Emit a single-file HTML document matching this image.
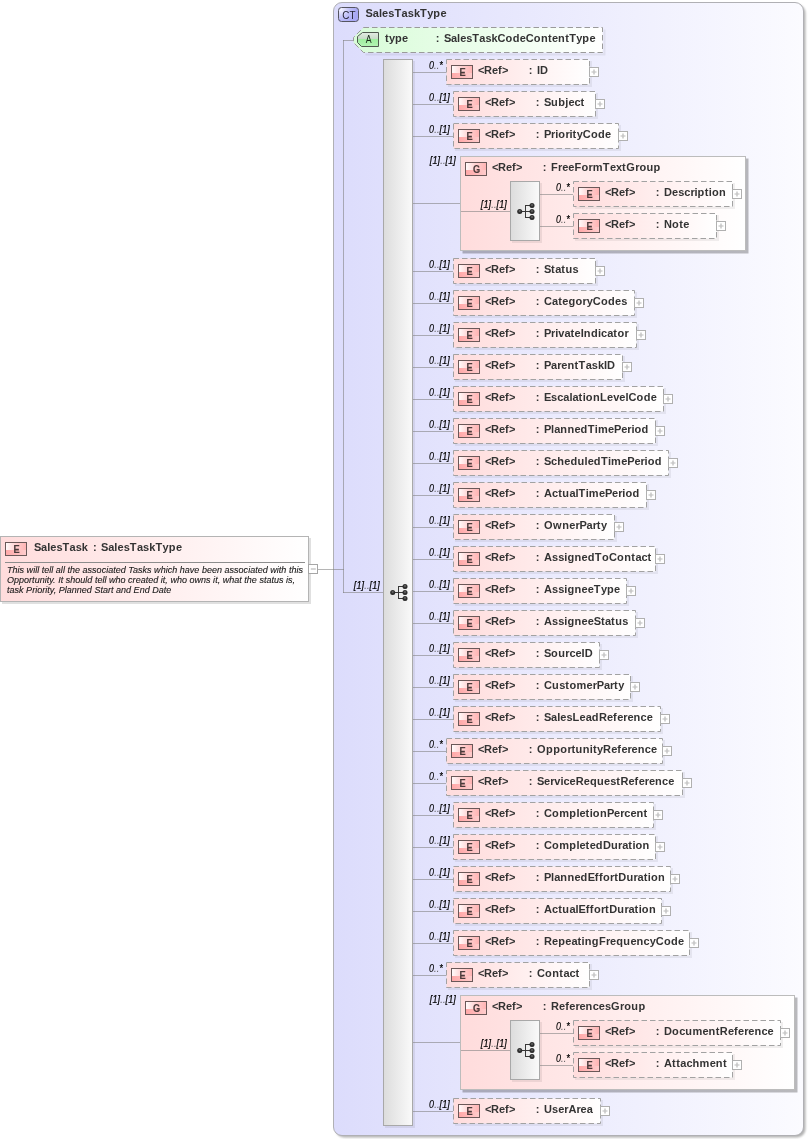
<!DOCTYPE html>
<html><head><meta charset="utf-8"><title>SalesTask</title>
<style>html,body{margin:0;padding:0;background:#fff;width:808px;height:1139px;overflow:hidden}svg{display:block;will-change:transform}text{font-family:"Liberation Sans",sans-serif}</style>
</head><body>
<svg width="808" height="1139" viewBox="0 0 808 1139" font-family="Liberation Sans, sans-serif">
<defs>
<linearGradient id="gCT" x1="0" x2="1" y1="0" y2="0"><stop offset="0" stop-color="#dcdcfc"/><stop offset="1" stop-color="#fbfbff"/></linearGradient>
<linearGradient id="gE" x1="0" x2="1" y1="0" y2="0"><stop offset="0" stop-color="#ffdcdc"/><stop offset="1" stop-color="#ffffff"/></linearGradient>
<linearGradient id="gA" x1="0" x2="1" y1="0" y2="0"><stop offset="0" stop-color="#d8fcd8"/><stop offset="1" stop-color="#ffffff"/></linearGradient>
<linearGradient id="gC" x1="0" x2="1" y1="0" y2="0"><stop offset="0" stop-color="#dcdcdc"/><stop offset="1" stop-color="#fafafa"/></linearGradient>
<linearGradient id="bEt" x1="0" x2="1" y1="0" y2="0"><stop offset="0" stop-color="#fffafa"/><stop offset="0.5" stop-color="#ffd0d0"/><stop offset="1" stop-color="#ffb4b4"/></linearGradient>
<linearGradient id="bEb" x1="0" x2="1" y1="0" y2="0"><stop offset="0" stop-color="#ffa8a8"/><stop offset="1" stop-color="#ffcccc"/></linearGradient>
<linearGradient id="bE" x1="0" x2="0" y1="0" y2="1"><stop offset="0" stop-color="#ffe8e8"/><stop offset="0.45" stop-color="#ffd4d4"/><stop offset="0.5" stop-color="#ffb4b4"/><stop offset="1" stop-color="#ffc4c4"/></linearGradient>
<linearGradient id="bA" x1="0" x2="0" y1="0" y2="1"><stop offset="0" stop-color="#e4ece4"/><stop offset="0.45" stop-color="#c8dcc8"/><stop offset="0.5" stop-color="#a0f0a0"/><stop offset="1" stop-color="#b4f4b4"/></linearGradient>
<linearGradient id="bCT" x1="0" x2="0" y1="0" y2="1"><stop offset="0" stop-color="#e8e8fa"/><stop offset="0.45" stop-color="#ccccf4"/><stop offset="0.5" stop-color="#b0b0f8"/><stop offset="1" stop-color="#c4c4fa"/></linearGradient>
<radialGradient id="dot" cx="0.5" cy="0.4" r="0.6"><stop offset="0" stop-color="#7a7a7a"/><stop offset="0.45" stop-color="#333"/><stop offset="1" stop-color="#222"/></radialGradient>
<radialGradient id="bEr" cx="0.12" cy="0.15" r="0.75" gradientTransform="translate(0.12 0.15) scale(1 1.6) translate(-0.12 -0.15)"><stop offset="0" stop-color="#fffafa"/><stop offset="0.5" stop-color="#ffc4c4"/><stop offset="1" stop-color="#ffb0b0"/></radialGradient>
<radialGradient id="bCTr" cx="0.12" cy="0.15" r="0.8" gradientTransform="translate(0.12 0.15) scale(1 1.4) translate(-0.12 -0.15)"><stop offset="0" stop-color="#f4f4ff"/><stop offset="0.5" stop-color="#c4c4f8"/><stop offset="1" stop-color="#a8a8f4"/></radialGradient>
<filter id="blur1" x="-2%" y="-2%" width="104%" height="104%"><feGaussianBlur stdDeviation="1.1"/></filter>
<filter id="blur08" x="-5%" y="-5%" width="110%" height="110%"><feGaussianBlur stdDeviation="0.6"/></filter>
</defs>
<rect width="808" height="1139" fill="#ffffff"/>
<rect x="2" y="538" width="309" height="66" fill="#000" opacity="0.12"/>
<rect x="0.5" y="536.5" width="308" height="65" fill="url(#gE)" stroke="#b4b4b4" stroke-width="1"/>
<rect x="6" y="543" width="20" height="12" fill="url(#bEb)"/>
<rect x="6" y="543" width="20" height="7" fill="url(#bEt)"/>
<rect x="5.5" y="542.5" width="21" height="13" fill="none" stroke="#6a5858" stroke-width="1"/>
<text transform="translate(16.5 553.2) scale(0.8 1)" font-size="11.5" font-weight="bold" fill="#4a3a3a" stroke="#4a3a3a" stroke-width="0.2" text-anchor="middle">E</text>
<text x="34 41.1 47.2 50.3 56.4 62.5 69.6 75.7 81.8" y="551" font-size="11" font-weight="bold" font-style="normal" fill="#333333" text-anchor="start" >SalesTask</text>
<text x="93" y="551" font-size="11" font-weight="bold" font-style="normal" fill="#333333" text-anchor="start" >:</text>
<text x="101 108.16 114.32 117.48 123.64 129.8 136.96 143.12 149.28 155.44 162.6 168.76 175.92" y="551" font-size="11" font-weight="bold" font-style="normal" fill="#333333" text-anchor="start" >SalesTaskType</text>
<rect x="5" y="562" width="300" height="1" fill="#8c8c8c"/>
<text x="7.0" y="572.6" font-size="9" font-weight="normal" font-style="italic" fill="#1a1a1a" text-anchor="start" letter-spacing="0.022" stroke="#1a1a1a" stroke-width="0.12">This will tell all the associated Tasks which have been associated with this</text>
<text x="7.0" y="582.6" font-size="9" font-weight="normal" font-style="italic" fill="#1a1a1a" text-anchor="start" letter-spacing="0.022" stroke="#1a1a1a" stroke-width="0.12">Opportunity. It should tell who created it, who owns it, what the status is,</text>
<text x="7.0" y="592.6" font-size="9" font-weight="normal" font-style="italic" fill="#1a1a1a" text-anchor="start" letter-spacing="0.022" stroke="#1a1a1a" stroke-width="0.12">task Priority, Planned Start and End Date</text>
<rect x="308.5" y="564.5" width="9" height="9" fill="#ffffff" stroke="#a6a6a6" stroke-width="1"/>
<rect x="310.8" y="568.3" width="5" height="1.4" fill="#c4c4c4"/>
<rect x="335.5" y="4.5" width="470" height="1133" rx="8.5" fill="#000" opacity="0.3" filter="url(#blur1)"/>
<rect x="333.5" y="2.5" width="470" height="1133" rx="8.5" fill="url(#gCT)" stroke="#b0b0b4" stroke-width="1"/>
<rect x="338.5" y="7.5" width="20" height="14" rx="3" fill="url(#bCTr)" stroke="#555560" stroke-width="1"/>
<text transform="translate(348.9 18.6) scale(0.86 1)" font-size="11.5" font-weight="normal" fill="#222230" text-anchor="middle">CT</text>
<text x="365.6 372.76 378.92 382.08 388.24 394.4 401.56 407.72 413.88 420.04 427.2 433.36 440.52" y="16.7" font-size="11" font-weight="bold" font-style="normal" fill="#333333" text-anchor="start" >SalesTaskType</text>
<rect x="318" y="569" width="26" height="1" fill="#808080" fill-opacity="0.58"/>
<rect x="343" y="40" width="1" height="553" fill="#808080" fill-opacity="0.58"/>
<rect x="343" y="40" width="11" height="1" fill="#808080" fill-opacity="0.58"/>
<rect x="343" y="592" width="40" height="1" fill="#808080" fill-opacity="0.58"/>
<text transform="translate(0 589.0) scale(1 1.14)" x="353.8 356.45 361.6 364.25 366.9 369.55 372.2 377.35" y="0" font-size="9" font-weight="normal" font-style="italic" fill="#000" stroke="#000" stroke-width="0.2">[1]<tspan fill="#555" stroke="none">..</tspan>[1]</text>
<path d="M365 55H605V30Z" fill="#000" opacity="0"/>
<path d="M365.5 54.5H604.5V29.5" fill="none" stroke="#000" stroke-opacity="0.06" stroke-width="2"/>
<path d="M363.5 27.5H602.5V52.5H363.5L353.5 42.5V37.5Z" fill="url(#gA)" stroke="#9a9a9a" stroke-width="1" stroke-dasharray="5.5 3"/>
<path d="M362.5 32.5H378.5V46.5H361.5L357.5 42.5V36.5Z" fill="url(#bA)" stroke="#505a50" stroke-width="1"/>
<text transform="translate(368.6 43.4) scale(0.8 1)" font-size="11" font-weight="normal" fill="#1a2a1a" text-anchor="middle">A</text>
<text x="385 389.0 395.0 402.0" y="41.8" font-size="11" font-weight="bold" font-style="normal" fill="#333333" text-anchor="start" >type</text>
<text x="435.7" y="41.8" font-size="11" font-weight="bold" font-style="normal" fill="#333333" text-anchor="start" >:</text>
<text x="444 451.06 457.12 460.18 466.24 472.3 479.36 485.42 491.48 497.54 505.6 512.66 519.72 525.78 533.84 540.9 547.96 552.02 558.08 565.14 569.2 576.26 582.32 589.38" y="41.8" font-size="11" font-weight="bold" font-style="normal" fill="#333333" text-anchor="start" >SalesTaskCodeContentType</text>
<rect x="385" y="61" width="30" height="1067" fill="#000" opacity="0.07"/>
<rect x="383.5" y="59.5" width="29" height="1066" fill="url(#gC)" stroke="#a8a8a8" stroke-width="1"/>
<rect x="392.7" y="592" width="12.300000000000011" height="1" fill="#383838"/>
<rect x="398" y="586" width="1" height="13" fill="#383838"/>
<rect x="398" y="586" width="7" height="1" fill="#383838"/>
<rect x="398" y="598" width="7" height="1" fill="#383838"/>
<circle cx="392.7" cy="592.5" r="2.5" fill="url(#dot)"/>
<circle cx="405" cy="586.5" r="2.5" fill="url(#dot)"/>
<circle cx="405" cy="592.5" r="2.5" fill="url(#dot)"/>
<circle cx="405" cy="598.5" r="2.5" fill="url(#dot)"/>
<rect x="413" y="72" width="33" height="1" fill="#808080" fill-opacity="0.58"/>
<text transform="translate(0 68.5) scale(1 1.14)" x="428.9 434.05 436.7 439.35" y="0" font-size="9" font-weight="normal" font-style="italic" fill="#000" stroke="#000" stroke-width="0.2"><tspan stroke-width="0.1">0</tspan><tspan fill="#555" stroke="none">..</tspan>*</text>
<rect x="448" y="61" width="144" height="26" fill="#000" opacity="0.06"/>
<rect x="446.5" y="59.5" width="143" height="25" fill="url(#gE)" stroke="#a2a2a2" stroke-width="1" stroke-dasharray="5.5 3"/>
<rect x="452" y="66" width="20" height="12" fill="url(#bEb)"/>
<rect x="452" y="66" width="20" height="7" fill="url(#bEt)"/>
<rect x="451.5" y="65.5" width="21" height="13" fill="none" stroke="#6a5858" stroke-width="1"/>
<text transform="translate(462.5 76.2) scale(0.8 1)" font-size="11.5" font-weight="bold" fill="#4a3a3a" stroke="#4a3a3a" stroke-width="0.2" text-anchor="middle">E</text>
<text x="478 484.0 492.0 498.0 502.0" y="74" font-size="11" font-weight="bold" font-style="normal" fill="#333333" text-anchor="start" >&lt;Ref&gt;</text>
<text x="528.7" y="74" font-size="11" font-weight="bold" font-style="normal" fill="#333333" text-anchor="start" >:</text>
<text x="537 540.1" y="74" font-size="11" font-weight="bold" font-style="normal" fill="#333333" text-anchor="start" >ID</text>
<rect x="589.5" y="67.5" width="9" height="9" fill="#ffffff" stroke="#b0b0b0" stroke-width="1"/>
<rect x="591.5" y="71.3" width="5" height="1.4" fill="#cdcdcd"/>
<rect x="593.3" y="69.5" width="1.4" height="5" fill="#c2c2c2"/>
<rect x="413" y="104" width="40" height="1" fill="#808080" fill-opacity="0.58"/>
<text transform="translate(0 100.5) scale(1 1.14)" x="429.1 434.25 436.9 439.55 442.2 447.35" y="0" font-size="9" font-weight="normal" font-style="italic" fill="#000" stroke="#000" stroke-width="0.2"><tspan stroke-width="0.1">0</tspan><tspan fill="#555" stroke="none">..</tspan>[1]</text>
<rect x="455" y="93" width="143" height="26" fill="#000" opacity="0.06"/>
<rect x="453.5" y="91.5" width="142" height="25" fill="url(#gE)" stroke="#a2a2a2" stroke-width="1" stroke-dasharray="5.5 3"/>
<rect x="459" y="98" width="20" height="12" fill="url(#bEb)"/>
<rect x="459" y="98" width="20" height="7" fill="url(#bEt)"/>
<rect x="458.5" y="97.5" width="21" height="13" fill="none" stroke="#6a5858" stroke-width="1"/>
<text transform="translate(469.5 108.2) scale(0.8 1)" font-size="11.5" font-weight="bold" fill="#4a3a3a" stroke="#4a3a3a" stroke-width="0.2" text-anchor="middle">E</text>
<text x="485 491.0 499.0 505.0 509.0" y="106" font-size="11" font-weight="bold" font-style="normal" fill="#333333" text-anchor="start" >&lt;Ref&gt;</text>
<text x="535.7" y="106" font-size="11" font-weight="bold" font-style="normal" fill="#333333" text-anchor="start" >:</text>
<text x="544 551.1 558.2 565.3 568.4 574.5 580.6" y="106" font-size="11" font-weight="bold" font-style="normal" fill="#333333" text-anchor="start" >Subject</text>
<rect x="595.5" y="99.5" width="9" height="9" fill="#ffffff" stroke="#b0b0b0" stroke-width="1"/>
<rect x="597.5" y="103.3" width="5" height="1.4" fill="#cdcdcd"/>
<rect x="599.3" y="101.5" width="1.4" height="5" fill="#c2c2c2"/>
<rect x="413" y="136" width="40" height="1" fill="#808080" fill-opacity="0.58"/>
<text transform="translate(0 132.5) scale(1 1.14)" x="429.1 434.25 436.9 439.55 442.2 447.35" y="0" font-size="9" font-weight="normal" font-style="italic" fill="#000" stroke="#000" stroke-width="0.2"><tspan stroke-width="0.1">0</tspan><tspan fill="#555" stroke="none">..</tspan>[1]</text>
<rect x="455" y="125" width="166" height="26" fill="#000" opacity="0.06"/>
<rect x="453.5" y="123.5" width="165" height="25" fill="url(#gE)" stroke="#a2a2a2" stroke-width="1" stroke-dasharray="5.5 3"/>
<rect x="459" y="130" width="20" height="12" fill="url(#bEb)"/>
<rect x="459" y="130" width="20" height="7" fill="url(#bEt)"/>
<rect x="458.5" y="129.5" width="21" height="13" fill="none" stroke="#6a5858" stroke-width="1"/>
<text transform="translate(469.5 140.2) scale(0.8 1)" font-size="11.5" font-weight="bold" fill="#4a3a3a" stroke="#4a3a3a" stroke-width="0.2" text-anchor="middle">E</text>
<text x="485 491.0 499.0 505.0 509.0" y="138" font-size="11" font-weight="bold" font-style="normal" fill="#333333" text-anchor="start" >&lt;Ref&gt;</text>
<text x="535.7" y="138" font-size="11" font-weight="bold" font-style="normal" fill="#333333" text-anchor="start" >:</text>
<text x="544 551.1 555.2 558.3 565.4 569.5 572.6 576.7 582.8 590.9 598.0 605.1" y="138" font-size="11" font-weight="bold" font-style="normal" fill="#333333" text-anchor="start" >PriorityCode</text>
<rect x="618.5" y="131.5" width="9" height="9" fill="#ffffff" stroke="#b0b0b0" stroke-width="1"/>
<rect x="620.5" y="135.3" width="5" height="1.4" fill="#cdcdcd"/>
<rect x="622.3" y="133.5" width="1.4" height="5" fill="#c2c2c2"/>
<rect x="413" y="203" width="47" height="1" fill="#808080" fill-opacity="0.58"/>
<text transform="translate(0 163.5) scale(1 1.14)" x="429.8 432.45 437.6 440.25 442.9 445.55 448.2 453.35" y="0" font-size="9" font-weight="normal" font-style="italic" fill="#000" stroke="#000" stroke-width="0.2">[1]<tspan fill="#555" stroke="none">..</tspan>[1]</text>
<rect x="462.5" y="158.5" width="286" height="95" fill="#000" opacity="0.26" filter="url(#blur08)"/>
<rect x="460.5" y="156.5" width="285" height="94" fill="url(#gE)" stroke="#bcbcbc" stroke-width="1"/>
<rect x="466" y="163" width="20" height="12" fill="url(#bEb)"/>
<rect x="466" y="163" width="20" height="7" fill="url(#bEt)"/>
<rect x="465.5" y="162.5" width="21" height="13" fill="none" stroke="#6a5858" stroke-width="1"/>
<text transform="translate(476.5 173.2) scale(0.8 1)" font-size="11.5" font-weight="bold" fill="#4a3a3a" stroke="#4a3a3a" stroke-width="0.2" text-anchor="middle">G</text>
<text x="492 498.0 506.0 512.0 516.0" y="171" font-size="11" font-weight="bold" font-style="normal" fill="#333333" text-anchor="start" >&lt;Ref&gt;</text>
<text x="542.7" y="171" font-size="11" font-weight="bold" font-style="normal" fill="#333333" text-anchor="start" >:</text>
<text x="551 558.1 562.2 568.3 574.4 581.5 588.6 592.7 602.8 609.9 616.0 622.1 626.2 635.3 639.4 646.5 653.6" y="171" font-size="11" font-weight="bold" font-style="normal" fill="#333333" text-anchor="start" >FreeFormTextGroup</text>
<rect x="461" y="211" width="49" height="1" fill="#808080" fill-opacity="0.58"/>
<text transform="translate(0 207.5) scale(1 1.14)" x="480.8 483.45 488.6 491.25 493.9 496.55 499.2 504.35" y="0" font-size="9" font-weight="normal" font-style="italic" fill="#000" stroke="#000" stroke-width="0.2">[1]<tspan fill="#555" stroke="none">..</tspan>[1]</text>
<rect x="512" y="183" width="30" height="60" fill="#000" opacity="0.07"/>
<rect x="510.5" y="181.5" width="29" height="59" fill="url(#gC)" stroke="#a8a8a8" stroke-width="1"/>
<rect x="519.7" y="211" width="12.299999999999955" height="1" fill="#383838"/>
<rect x="525" y="205" width="1" height="13" fill="#383838"/>
<rect x="525" y="205" width="7" height="1" fill="#383838"/>
<rect x="525" y="217" width="7" height="1" fill="#383838"/>
<circle cx="519.7" cy="211.5" r="2.5" fill="url(#dot)"/>
<circle cx="532" cy="205.5" r="2.5" fill="url(#dot)"/>
<circle cx="532" cy="211.5" r="2.5" fill="url(#dot)"/>
<circle cx="532" cy="217.5" r="2.5" fill="url(#dot)"/>
<rect x="540" y="194" width="33" height="1" fill="#808080" fill-opacity="0.58"/>
<text transform="translate(0 190.5) scale(1 1.14)" x="555.9 561.05 563.7 566.35" y="0" font-size="9" font-weight="normal" font-style="italic" fill="#000" stroke="#000" stroke-width="0.2"><tspan stroke-width="0.1">0</tspan><tspan fill="#555" stroke="none">..</tspan>*</text>
<rect x="575" y="183" width="160" height="26" fill="#000" opacity="0.06"/>
<rect x="573.5" y="181.5" width="159" height="25" fill="url(#gE)" stroke="#a2a2a2" stroke-width="1" stroke-dasharray="5.5 3"/>
<rect x="579" y="188" width="20" height="12" fill="url(#bEb)"/>
<rect x="579" y="188" width="20" height="7" fill="url(#bEt)"/>
<rect x="578.5" y="187.5" width="21" height="13" fill="none" stroke="#6a5858" stroke-width="1"/>
<text transform="translate(589.5 198.2) scale(0.8 1)" font-size="11.5" font-weight="bold" fill="#4a3a3a" stroke="#4a3a3a" stroke-width="0.2" text-anchor="middle">E</text>
<text x="605 611.0 619.0 625.0 629.0" y="196" font-size="11" font-weight="bold" font-style="normal" fill="#333333" text-anchor="start" >&lt;Ref&gt;</text>
<text x="655.7" y="196" font-size="11" font-weight="bold" font-style="normal" fill="#333333" text-anchor="start" >:</text>
<text x="664 672.1 678.2 684.3 690.4 694.5 697.6 704.7 708.8 711.9 719.0" y="196" font-size="11" font-weight="bold" font-style="normal" fill="#333333" text-anchor="start" >Description</text>
<rect x="732.5" y="189.5" width="9" height="9" fill="#ffffff" stroke="#b0b0b0" stroke-width="1"/>
<rect x="734.5" y="193.3" width="5" height="1.4" fill="#cdcdcd"/>
<rect x="736.3" y="191.5" width="1.4" height="5" fill="#c2c2c2"/>
<rect x="540" y="226" width="33" height="1" fill="#808080" fill-opacity="0.58"/>
<text transform="translate(0 222.5) scale(1 1.14)" x="555.9 561.05 563.7 566.35" y="0" font-size="9" font-weight="normal" font-style="italic" fill="#000" stroke="#000" stroke-width="0.2"><tspan stroke-width="0.1">0</tspan><tspan fill="#555" stroke="none">..</tspan>*</text>
<rect x="575" y="215" width="144" height="26" fill="#000" opacity="0.06"/>
<rect x="573.5" y="213.5" width="143" height="25" fill="url(#gE)" stroke="#a2a2a2" stroke-width="1" stroke-dasharray="5.5 3"/>
<rect x="579" y="220" width="20" height="12" fill="url(#bEb)"/>
<rect x="579" y="220" width="20" height="7" fill="url(#bEt)"/>
<rect x="578.5" y="219.5" width="21" height="13" fill="none" stroke="#6a5858" stroke-width="1"/>
<text transform="translate(589.5 230.2) scale(0.8 1)" font-size="11.5" font-weight="bold" fill="#4a3a3a" stroke="#4a3a3a" stroke-width="0.2" text-anchor="middle">E</text>
<text x="605 611.0 619.0 625.0 629.0" y="228" font-size="11" font-weight="bold" font-style="normal" fill="#333333" text-anchor="start" >&lt;Ref&gt;</text>
<text x="655.7" y="228" font-size="11" font-weight="bold" font-style="normal" fill="#333333" text-anchor="start" >:</text>
<text x="664 672.1 679.2 683.3" y="228" font-size="11" font-weight="bold" font-style="normal" fill="#333333" text-anchor="start" >Note</text>
<rect x="716.5" y="221.5" width="9" height="9" fill="#ffffff" stroke="#b0b0b0" stroke-width="1"/>
<rect x="718.5" y="225.3" width="5" height="1.4" fill="#cdcdcd"/>
<rect x="720.3" y="223.5" width="1.4" height="5" fill="#c2c2c2"/>
<rect x="413" y="271" width="40" height="1" fill="#808080" fill-opacity="0.58"/>
<text transform="translate(0 267.5) scale(1 1.14)" x="429.1 434.25 436.9 439.55 442.2 447.35" y="0" font-size="9" font-weight="normal" font-style="italic" fill="#000" stroke="#000" stroke-width="0.2"><tspan stroke-width="0.1">0</tspan><tspan fill="#555" stroke="none">..</tspan>[1]</text>
<rect x="455" y="260" width="143" height="26" fill="#000" opacity="0.06"/>
<rect x="453.5" y="258.5" width="142" height="25" fill="url(#gE)" stroke="#a2a2a2" stroke-width="1" stroke-dasharray="5.5 3"/>
<rect x="459" y="265" width="20" height="12" fill="url(#bEb)"/>
<rect x="459" y="265" width="20" height="7" fill="url(#bEt)"/>
<rect x="458.5" y="264.5" width="21" height="13" fill="none" stroke="#6a5858" stroke-width="1"/>
<text transform="translate(469.5 275.2) scale(0.8 1)" font-size="11.5" font-weight="bold" fill="#4a3a3a" stroke="#4a3a3a" stroke-width="0.2" text-anchor="middle">E</text>
<text x="485 491.0 499.0 505.0 509.0" y="273" font-size="11" font-weight="bold" font-style="normal" fill="#333333" text-anchor="start" >&lt;Ref&gt;</text>
<text x="535.7" y="273" font-size="11" font-weight="bold" font-style="normal" fill="#333333" text-anchor="start" >:</text>
<text x="544 551.1 555.2 561.3 565.4 572.5" y="273" font-size="11" font-weight="bold" font-style="normal" fill="#333333" text-anchor="start" >Status</text>
<rect x="595.5" y="266.5" width="9" height="9" fill="#ffffff" stroke="#b0b0b0" stroke-width="1"/>
<rect x="597.5" y="270.3" width="5" height="1.4" fill="#cdcdcd"/>
<rect x="599.3" y="268.5" width="1.4" height="5" fill="#c2c2c2"/>
<rect x="413" y="303" width="40" height="1" fill="#808080" fill-opacity="0.58"/>
<text transform="translate(0 299.5) scale(1 1.14)" x="429.1 434.25 436.9 439.55 442.2 447.35" y="0" font-size="9" font-weight="normal" font-style="italic" fill="#000" stroke="#000" stroke-width="0.2"><tspan stroke-width="0.1">0</tspan><tspan fill="#555" stroke="none">..</tspan>[1]</text>
<rect x="455" y="292" width="182" height="26" fill="#000" opacity="0.06"/>
<rect x="453.5" y="290.5" width="181" height="25" fill="url(#gE)" stroke="#a2a2a2" stroke-width="1" stroke-dasharray="5.5 3"/>
<rect x="459" y="297" width="20" height="12" fill="url(#bEb)"/>
<rect x="459" y="297" width="20" height="7" fill="url(#bEt)"/>
<rect x="458.5" y="296.5" width="21" height="13" fill="none" stroke="#6a5858" stroke-width="1"/>
<text transform="translate(469.5 307.2) scale(0.8 1)" font-size="11.5" font-weight="bold" fill="#4a3a3a" stroke="#4a3a3a" stroke-width="0.2" text-anchor="middle">E</text>
<text x="485 491.0 499.0 505.0 509.0" y="305" font-size="11" font-weight="bold" font-style="normal" fill="#333333" text-anchor="start" >&lt;Ref&gt;</text>
<text x="535.7" y="305" font-size="11" font-weight="bold" font-style="normal" fill="#333333" text-anchor="start" >:</text>
<text x="544 552.1 558.2 562.3 568.4 575.5 582.6 586.7 592.8 600.9 608.0 615.1 621.2" y="305" font-size="11" font-weight="bold" font-style="normal" fill="#333333" text-anchor="start" >CategoryCodes</text>
<rect x="634.5" y="298.5" width="9" height="9" fill="#ffffff" stroke="#b0b0b0" stroke-width="1"/>
<rect x="636.5" y="302.3" width="5" height="1.4" fill="#cdcdcd"/>
<rect x="638.3" y="300.5" width="1.4" height="5" fill="#c2c2c2"/>
<rect x="413" y="335" width="40" height="1" fill="#808080" fill-opacity="0.58"/>
<text transform="translate(0 331.5) scale(1 1.14)" x="429.1 434.25 436.9 439.55 442.2 447.35" y="0" font-size="9" font-weight="normal" font-style="italic" fill="#000" stroke="#000" stroke-width="0.2"><tspan stroke-width="0.1">0</tspan><tspan fill="#555" stroke="none">..</tspan>[1]</text>
<rect x="455" y="324" width="184" height="26" fill="#000" opacity="0.06"/>
<rect x="453.5" y="322.5" width="183" height="25" fill="url(#gE)" stroke="#a2a2a2" stroke-width="1" stroke-dasharray="5.5 3"/>
<rect x="459" y="329" width="20" height="12" fill="url(#bEb)"/>
<rect x="459" y="329" width="20" height="7" fill="url(#bEt)"/>
<rect x="458.5" y="328.5" width="21" height="13" fill="none" stroke="#6a5858" stroke-width="1"/>
<text transform="translate(469.5 339.2) scale(0.8 1)" font-size="11.5" font-weight="bold" fill="#4a3a3a" stroke="#4a3a3a" stroke-width="0.2" text-anchor="middle">E</text>
<text x="485 491.0 499.0 505.0 509.0" y="337" font-size="11" font-weight="bold" font-style="normal" fill="#333333" text-anchor="start" >&lt;Ref&gt;</text>
<text x="535.7" y="337" font-size="11" font-weight="bold" font-style="normal" fill="#333333" text-anchor="start" >:</text>
<text x="544 551.1 555.2 558.3 564.4 570.5 574.6 580.7 583.8 590.9 598.0 601.1 607.2 613.3 617.4 624.5" y="337" font-size="11" font-weight="bold" font-style="normal" fill="#333333" text-anchor="start" >PrivateIndicator</text>
<rect x="636.5" y="330.5" width="9" height="9" fill="#ffffff" stroke="#b0b0b0" stroke-width="1"/>
<rect x="638.5" y="334.3" width="5" height="1.4" fill="#cdcdcd"/>
<rect x="640.3" y="332.5" width="1.4" height="5" fill="#c2c2c2"/>
<rect x="413" y="367" width="40" height="1" fill="#808080" fill-opacity="0.58"/>
<text transform="translate(0 363.5) scale(1 1.14)" x="429.1 434.25 436.9 439.55 442.2 447.35" y="0" font-size="9" font-weight="normal" font-style="italic" fill="#000" stroke="#000" stroke-width="0.2"><tspan stroke-width="0.1">0</tspan><tspan fill="#555" stroke="none">..</tspan>[1]</text>
<rect x="455" y="356" width="170" height="26" fill="#000" opacity="0.06"/>
<rect x="453.5" y="354.5" width="169" height="25" fill="url(#gE)" stroke="#a2a2a2" stroke-width="1" stroke-dasharray="5.5 3"/>
<rect x="459" y="361" width="20" height="12" fill="url(#bEb)"/>
<rect x="459" y="361" width="20" height="7" fill="url(#bEt)"/>
<rect x="458.5" y="360.5" width="21" height="13" fill="none" stroke="#6a5858" stroke-width="1"/>
<text transform="translate(469.5 371.2) scale(0.8 1)" font-size="11.5" font-weight="bold" fill="#4a3a3a" stroke="#4a3a3a" stroke-width="0.2" text-anchor="middle">E</text>
<text x="485 491.0 499.0 505.0 509.0" y="369" font-size="11" font-weight="bold" font-style="normal" fill="#333333" text-anchor="start" >&lt;Ref&gt;</text>
<text x="535.7" y="369" font-size="11" font-weight="bold" font-style="normal" fill="#333333" text-anchor="start" >:</text>
<text x="544 551.1 557.2 561.3 567.4 574.5 578.6 585.7 591.8 597.9 604.0 607.1" y="369" font-size="11" font-weight="bold" font-style="normal" fill="#333333" text-anchor="start" >ParentTaskID</text>
<rect x="622.5" y="362.5" width="9" height="9" fill="#ffffff" stroke="#b0b0b0" stroke-width="1"/>
<rect x="624.5" y="366.3" width="5" height="1.4" fill="#cdcdcd"/>
<rect x="626.3" y="364.5" width="1.4" height="5" fill="#c2c2c2"/>
<rect x="413" y="399" width="40" height="1" fill="#808080" fill-opacity="0.58"/>
<text transform="translate(0 395.5) scale(1 1.14)" x="429.1 434.25 436.9 439.55 442.2 447.35" y="0" font-size="9" font-weight="normal" font-style="italic" fill="#000" stroke="#000" stroke-width="0.2"><tspan stroke-width="0.1">0</tspan><tspan fill="#555" stroke="none">..</tspan>[1]</text>
<rect x="455" y="388" width="211" height="26" fill="#000" opacity="0.06"/>
<rect x="453.5" y="386.5" width="210" height="25" fill="url(#gE)" stroke="#a2a2a2" stroke-width="1" stroke-dasharray="5.5 3"/>
<rect x="459" y="393" width="20" height="12" fill="url(#bEb)"/>
<rect x="459" y="393" width="20" height="7" fill="url(#bEt)"/>
<rect x="458.5" y="392.5" width="21" height="13" fill="none" stroke="#6a5858" stroke-width="1"/>
<text transform="translate(469.5 403.2) scale(0.8 1)" font-size="11.5" font-weight="bold" fill="#4a3a3a" stroke="#4a3a3a" stroke-width="0.2" text-anchor="middle">E</text>
<text x="485 491.0 499.0 505.0 509.0" y="401" font-size="11" font-weight="bold" font-style="normal" fill="#333333" text-anchor="start" >&lt;Ref&gt;</text>
<text x="535.7" y="401" font-size="11" font-weight="bold" font-style="normal" fill="#333333" text-anchor="start" >:</text>
<text x="544 551.1 557.2 563.3 569.4 572.5 578.6 582.7 585.8 592.9 600.0 607.1 613.2 619.3 625.4 628.5 636.6 643.7 650.8" y="401" font-size="11" font-weight="bold" font-style="normal" fill="#333333" text-anchor="start" >EscalationLevelCode</text>
<rect x="663.5" y="394.5" width="9" height="9" fill="#ffffff" stroke="#b0b0b0" stroke-width="1"/>
<rect x="665.5" y="398.3" width="5" height="1.4" fill="#cdcdcd"/>
<rect x="667.3" y="396.5" width="1.4" height="5" fill="#c2c2c2"/>
<rect x="413" y="431" width="40" height="1" fill="#808080" fill-opacity="0.58"/>
<text transform="translate(0 427.5) scale(1 1.14)" x="429.1 434.25 436.9 439.55 442.2 447.35" y="0" font-size="9" font-weight="normal" font-style="italic" fill="#000" stroke="#000" stroke-width="0.2"><tspan stroke-width="0.1">0</tspan><tspan fill="#555" stroke="none">..</tspan>[1]</text>
<rect x="455" y="420" width="203" height="26" fill="#000" opacity="0.06"/>
<rect x="453.5" y="418.5" width="202" height="25" fill="url(#gE)" stroke="#a2a2a2" stroke-width="1" stroke-dasharray="5.5 3"/>
<rect x="459" y="425" width="20" height="12" fill="url(#bEb)"/>
<rect x="459" y="425" width="20" height="7" fill="url(#bEt)"/>
<rect x="458.5" y="424.5" width="21" height="13" fill="none" stroke="#6a5858" stroke-width="1"/>
<text transform="translate(469.5 435.2) scale(0.8 1)" font-size="11.5" font-weight="bold" fill="#4a3a3a" stroke="#4a3a3a" stroke-width="0.2" text-anchor="middle">E</text>
<text x="485 491.0 499.0 505.0 509.0" y="433" font-size="11" font-weight="bold" font-style="normal" fill="#333333" text-anchor="start" >&lt;Ref&gt;</text>
<text x="535.7" y="433" font-size="11" font-weight="bold" font-style="normal" fill="#333333" text-anchor="start" >:</text>
<text x="544 551.1 554.2 560.3 567.4 574.5 580.6 587.7 594.8 597.9 608.0 614.1 621.2 627.3 631.4 634.5 641.6" y="433" font-size="11" font-weight="bold" font-style="normal" fill="#333333" text-anchor="start" >PlannedTimePeriod</text>
<rect x="655.5" y="426.5" width="9" height="9" fill="#ffffff" stroke="#b0b0b0" stroke-width="1"/>
<rect x="657.5" y="430.3" width="5" height="1.4" fill="#cdcdcd"/>
<rect x="659.3" y="428.5" width="1.4" height="5" fill="#c2c2c2"/>
<rect x="413" y="463" width="40" height="1" fill="#808080" fill-opacity="0.58"/>
<text transform="translate(0 459.5) scale(1 1.14)" x="429.1 434.25 436.9 439.55 442.2 447.35" y="0" font-size="9" font-weight="normal" font-style="italic" fill="#000" stroke="#000" stroke-width="0.2"><tspan stroke-width="0.1">0</tspan><tspan fill="#555" stroke="none">..</tspan>[1]</text>
<rect x="455" y="452" width="216" height="26" fill="#000" opacity="0.06"/>
<rect x="453.5" y="450.5" width="215" height="25" fill="url(#gE)" stroke="#a2a2a2" stroke-width="1" stroke-dasharray="5.5 3"/>
<rect x="459" y="457" width="20" height="12" fill="url(#bEb)"/>
<rect x="459" y="457" width="20" height="7" fill="url(#bEt)"/>
<rect x="458.5" y="456.5" width="21" height="13" fill="none" stroke="#6a5858" stroke-width="1"/>
<text transform="translate(469.5 467.2) scale(0.8 1)" font-size="11.5" font-weight="bold" fill="#4a3a3a" stroke="#4a3a3a" stroke-width="0.2" text-anchor="middle">E</text>
<text x="485 491.0 499.0 505.0 509.0" y="465" font-size="11" font-weight="bold" font-style="normal" fill="#333333" text-anchor="start" >&lt;Ref&gt;</text>
<text x="535.7" y="465" font-size="11" font-weight="bold" font-style="normal" fill="#333333" text-anchor="start" >:</text>
<text x="544 551.1 557.2 564.3 570.4 577.5 584.6 587.7 593.8 600.9 608.0 611.1 621.2 627.3 634.4 640.5 644.6 647.7 654.8" y="465" font-size="11" font-weight="bold" font-style="normal" fill="#333333" text-anchor="start" >ScheduledTimePeriod</text>
<rect x="668.5" y="458.5" width="9" height="9" fill="#ffffff" stroke="#b0b0b0" stroke-width="1"/>
<rect x="670.5" y="462.3" width="5" height="1.4" fill="#cdcdcd"/>
<rect x="672.3" y="460.5" width="1.4" height="5" fill="#c2c2c2"/>
<rect x="413" y="495" width="40" height="1" fill="#808080" fill-opacity="0.58"/>
<text transform="translate(0 491.5) scale(1 1.14)" x="429.1 434.25 436.9 439.55 442.2 447.35" y="0" font-size="9" font-weight="normal" font-style="italic" fill="#000" stroke="#000" stroke-width="0.2"><tspan stroke-width="0.1">0</tspan><tspan fill="#555" stroke="none">..</tspan>[1]</text>
<rect x="455" y="484" width="194" height="26" fill="#000" opacity="0.06"/>
<rect x="453.5" y="482.5" width="193" height="25" fill="url(#gE)" stroke="#a2a2a2" stroke-width="1" stroke-dasharray="5.5 3"/>
<rect x="459" y="489" width="20" height="12" fill="url(#bEb)"/>
<rect x="459" y="489" width="20" height="7" fill="url(#bEt)"/>
<rect x="458.5" y="488.5" width="21" height="13" fill="none" stroke="#6a5858" stroke-width="1"/>
<text transform="translate(469.5 499.2) scale(0.8 1)" font-size="11.5" font-weight="bold" fill="#4a3a3a" stroke="#4a3a3a" stroke-width="0.2" text-anchor="middle">E</text>
<text x="485 491.0 499.0 505.0 509.0" y="497" font-size="11" font-weight="bold" font-style="normal" fill="#333333" text-anchor="start" >&lt;Ref&gt;</text>
<text x="535.7" y="497" font-size="11" font-weight="bold" font-style="normal" fill="#333333" text-anchor="start" >:</text>
<text x="544 552.1 558.2 562.3 569.4 575.5 578.6 585.7 588.8 598.9 605.0 612.1 618.2 622.3 625.4 632.5" y="497" font-size="11" font-weight="bold" font-style="normal" fill="#333333" text-anchor="start" >ActualTimePeriod</text>
<rect x="646.5" y="490.5" width="9" height="9" fill="#ffffff" stroke="#b0b0b0" stroke-width="1"/>
<rect x="648.5" y="494.3" width="5" height="1.4" fill="#cdcdcd"/>
<rect x="650.3" y="492.5" width="1.4" height="5" fill="#c2c2c2"/>
<rect x="413" y="527" width="40" height="1" fill="#808080" fill-opacity="0.58"/>
<text transform="translate(0 523.5) scale(1 1.14)" x="429.1 434.25 436.9 439.55 442.2 447.35" y="0" font-size="9" font-weight="normal" font-style="italic" fill="#000" stroke="#000" stroke-width="0.2"><tspan stroke-width="0.1">0</tspan><tspan fill="#555" stroke="none">..</tspan>[1]</text>
<rect x="455" y="516" width="162" height="26" fill="#000" opacity="0.06"/>
<rect x="453.5" y="514.5" width="161" height="25" fill="url(#gE)" stroke="#a2a2a2" stroke-width="1" stroke-dasharray="5.5 3"/>
<rect x="459" y="521" width="20" height="12" fill="url(#bEb)"/>
<rect x="459" y="521" width="20" height="7" fill="url(#bEt)"/>
<rect x="458.5" y="520.5" width="21" height="13" fill="none" stroke="#6a5858" stroke-width="1"/>
<text transform="translate(469.5 531.2) scale(0.8 1)" font-size="11.5" font-weight="bold" fill="#4a3a3a" stroke="#4a3a3a" stroke-width="0.2" text-anchor="middle">E</text>
<text x="485 491.0 499.0 505.0 509.0" y="529" font-size="11" font-weight="bold" font-style="normal" fill="#333333" text-anchor="start" >&lt;Ref&gt;</text>
<text x="535.7" y="529" font-size="11" font-weight="bold" font-style="normal" fill="#333333" text-anchor="start" >:</text>
<text x="544 553.1 562.2 569.3 575.4 579.5 586.6 592.7 596.8 600.9" y="529" font-size="11" font-weight="bold" font-style="normal" fill="#333333" text-anchor="start" >OwnerParty</text>
<rect x="614.5" y="522.5" width="9" height="9" fill="#ffffff" stroke="#b0b0b0" stroke-width="1"/>
<rect x="616.5" y="526.3" width="5" height="1.4" fill="#cdcdcd"/>
<rect x="618.3" y="524.5" width="1.4" height="5" fill="#c2c2c2"/>
<rect x="413" y="559" width="40" height="1" fill="#808080" fill-opacity="0.58"/>
<text transform="translate(0 555.5) scale(1 1.14)" x="429.1 434.25 436.9 439.55 442.2 447.35" y="0" font-size="9" font-weight="normal" font-style="italic" fill="#000" stroke="#000" stroke-width="0.2"><tspan stroke-width="0.1">0</tspan><tspan fill="#555" stroke="none">..</tspan>[1]</text>
<rect x="455" y="548" width="203" height="26" fill="#000" opacity="0.06"/>
<rect x="453.5" y="546.5" width="202" height="25" fill="url(#gE)" stroke="#a2a2a2" stroke-width="1" stroke-dasharray="5.5 3"/>
<rect x="459" y="553" width="20" height="12" fill="url(#bEb)"/>
<rect x="459" y="553" width="20" height="7" fill="url(#bEt)"/>
<rect x="458.5" y="552.5" width="21" height="13" fill="none" stroke="#6a5858" stroke-width="1"/>
<text transform="translate(469.5 563.2) scale(0.8 1)" font-size="11.5" font-weight="bold" fill="#4a3a3a" stroke="#4a3a3a" stroke-width="0.2" text-anchor="middle">E</text>
<text x="485 491.0 499.0 505.0 509.0" y="561" font-size="11" font-weight="bold" font-style="normal" fill="#333333" text-anchor="start" >&lt;Ref&gt;</text>
<text x="535.7" y="561" font-size="11" font-weight="bold" font-style="normal" fill="#333333" text-anchor="start" >:</text>
<text x="544 552.1 558.2 564.3 567.4 574.5 581.6 587.7 594.8 601.9 609.0 617.1 624.2 631.3 635.4 641.5 647.6" y="561" font-size="11" font-weight="bold" font-style="normal" fill="#333333" text-anchor="start" >AssignedToContact</text>
<rect x="655.5" y="554.5" width="9" height="9" fill="#ffffff" stroke="#b0b0b0" stroke-width="1"/>
<rect x="657.5" y="558.3" width="5" height="1.4" fill="#cdcdcd"/>
<rect x="659.3" y="556.5" width="1.4" height="5" fill="#c2c2c2"/>
<rect x="413" y="591" width="40" height="1" fill="#808080" fill-opacity="0.58"/>
<text transform="translate(0 587.5) scale(1 1.14)" x="429.1 434.25 436.9 439.55 442.2 447.35" y="0" font-size="9" font-weight="normal" font-style="italic" fill="#000" stroke="#000" stroke-width="0.2"><tspan stroke-width="0.1">0</tspan><tspan fill="#555" stroke="none">..</tspan>[1]</text>
<rect x="455" y="580" width="174" height="26" fill="#000" opacity="0.06"/>
<rect x="453.5" y="578.5" width="173" height="25" fill="url(#gE)" stroke="#a2a2a2" stroke-width="1" stroke-dasharray="5.5 3"/>
<rect x="459" y="585" width="20" height="12" fill="url(#bEb)"/>
<rect x="459" y="585" width="20" height="7" fill="url(#bEt)"/>
<rect x="458.5" y="584.5" width="21" height="13" fill="none" stroke="#6a5858" stroke-width="1"/>
<text transform="translate(469.5 595.2) scale(0.8 1)" font-size="11.5" font-weight="bold" fill="#4a3a3a" stroke="#4a3a3a" stroke-width="0.2" text-anchor="middle">E</text>
<text x="485 491.0 499.0 505.0 509.0" y="593" font-size="11" font-weight="bold" font-style="normal" fill="#333333" text-anchor="start" >&lt;Ref&gt;</text>
<text x="535.7" y="593" font-size="11" font-weight="bold" font-style="normal" fill="#333333" text-anchor="start" >:</text>
<text x="544 552.1 558.2 564.3 567.4 574.5 581.6 587.7 593.8 600.9 607.0 614.1" y="593" font-size="11" font-weight="bold" font-style="normal" fill="#333333" text-anchor="start" >AssigneeType</text>
<rect x="626.5" y="586.5" width="9" height="9" fill="#ffffff" stroke="#b0b0b0" stroke-width="1"/>
<rect x="628.5" y="590.3" width="5" height="1.4" fill="#cdcdcd"/>
<rect x="630.3" y="588.5" width="1.4" height="5" fill="#c2c2c2"/>
<rect x="413" y="623" width="40" height="1" fill="#808080" fill-opacity="0.58"/>
<text transform="translate(0 619.5) scale(1 1.14)" x="429.1 434.25 436.9 439.55 442.2 447.35" y="0" font-size="9" font-weight="normal" font-style="italic" fill="#000" stroke="#000" stroke-width="0.2"><tspan stroke-width="0.1">0</tspan><tspan fill="#555" stroke="none">..</tspan>[1]</text>
<rect x="455" y="612" width="183" height="26" fill="#000" opacity="0.06"/>
<rect x="453.5" y="610.5" width="182" height="25" fill="url(#gE)" stroke="#a2a2a2" stroke-width="1" stroke-dasharray="5.5 3"/>
<rect x="459" y="617" width="20" height="12" fill="url(#bEb)"/>
<rect x="459" y="617" width="20" height="7" fill="url(#bEt)"/>
<rect x="458.5" y="616.5" width="21" height="13" fill="none" stroke="#6a5858" stroke-width="1"/>
<text transform="translate(469.5 627.2) scale(0.8 1)" font-size="11.5" font-weight="bold" fill="#4a3a3a" stroke="#4a3a3a" stroke-width="0.2" text-anchor="middle">E</text>
<text x="485 491.0 499.0 505.0 509.0" y="625" font-size="11" font-weight="bold" font-style="normal" fill="#333333" text-anchor="start" >&lt;Ref&gt;</text>
<text x="535.7" y="625" font-size="11" font-weight="bold" font-style="normal" fill="#333333" text-anchor="start" >:</text>
<text x="544 552.1 558.2 564.3 567.4 574.5 581.6 587.7 593.8 600.9 605.0 611.1 615.2 622.3" y="625" font-size="11" font-weight="bold" font-style="normal" fill="#333333" text-anchor="start" >AssigneeStatus</text>
<rect x="635.5" y="618.5" width="9" height="9" fill="#ffffff" stroke="#b0b0b0" stroke-width="1"/>
<rect x="637.5" y="622.3" width="5" height="1.4" fill="#cdcdcd"/>
<rect x="639.3" y="620.5" width="1.4" height="5" fill="#c2c2c2"/>
<rect x="413" y="655" width="40" height="1" fill="#808080" fill-opacity="0.58"/>
<text transform="translate(0 651.5) scale(1 1.14)" x="429.1 434.25 436.9 439.55 442.2 447.35" y="0" font-size="9" font-weight="normal" font-style="italic" fill="#000" stroke="#000" stroke-width="0.2"><tspan stroke-width="0.1">0</tspan><tspan fill="#555" stroke="none">..</tspan>[1]</text>
<rect x="455" y="644" width="147" height="26" fill="#000" opacity="0.06"/>
<rect x="453.5" y="642.5" width="146" height="25" fill="url(#gE)" stroke="#a2a2a2" stroke-width="1" stroke-dasharray="5.5 3"/>
<rect x="459" y="649" width="20" height="12" fill="url(#bEb)"/>
<rect x="459" y="649" width="20" height="7" fill="url(#bEt)"/>
<rect x="458.5" y="648.5" width="21" height="13" fill="none" stroke="#6a5858" stroke-width="1"/>
<text transform="translate(469.5 659.2) scale(0.8 1)" font-size="11.5" font-weight="bold" fill="#4a3a3a" stroke="#4a3a3a" stroke-width="0.2" text-anchor="middle">E</text>
<text x="485 491.0 499.0 505.0 509.0" y="657" font-size="11" font-weight="bold" font-style="normal" fill="#333333" text-anchor="start" >&lt;Ref&gt;</text>
<text x="535.7" y="657" font-size="11" font-weight="bold" font-style="normal" fill="#333333" text-anchor="start" >:</text>
<text x="544 551.1 558.2 565.3 569.4 575.5 581.6 584.7" y="657" font-size="11" font-weight="bold" font-style="normal" fill="#333333" text-anchor="start" >SourceID</text>
<rect x="599.5" y="650.5" width="9" height="9" fill="#ffffff" stroke="#b0b0b0" stroke-width="1"/>
<rect x="601.5" y="654.3" width="5" height="1.4" fill="#cdcdcd"/>
<rect x="603.3" y="652.5" width="1.4" height="5" fill="#c2c2c2"/>
<rect x="413" y="687" width="40" height="1" fill="#808080" fill-opacity="0.58"/>
<text transform="translate(0 683.5) scale(1 1.14)" x="429.1 434.25 436.9 439.55 442.2 447.35" y="0" font-size="9" font-weight="normal" font-style="italic" fill="#000" stroke="#000" stroke-width="0.2"><tspan stroke-width="0.1">0</tspan><tspan fill="#555" stroke="none">..</tspan>[1]</text>
<rect x="455" y="676" width="178" height="26" fill="#000" opacity="0.06"/>
<rect x="453.5" y="674.5" width="177" height="25" fill="url(#gE)" stroke="#a2a2a2" stroke-width="1" stroke-dasharray="5.5 3"/>
<rect x="459" y="681" width="20" height="12" fill="url(#bEb)"/>
<rect x="459" y="681" width="20" height="7" fill="url(#bEt)"/>
<rect x="458.5" y="680.5" width="21" height="13" fill="none" stroke="#6a5858" stroke-width="1"/>
<text transform="translate(469.5 691.2) scale(0.8 1)" font-size="11.5" font-weight="bold" fill="#4a3a3a" stroke="#4a3a3a" stroke-width="0.2" text-anchor="middle">E</text>
<text x="485 491.0 499.0 505.0 509.0" y="689" font-size="11" font-weight="bold" font-style="normal" fill="#333333" text-anchor="start" >&lt;Ref&gt;</text>
<text x="535.7" y="689" font-size="11" font-weight="bold" font-style="normal" fill="#333333" text-anchor="start" >:</text>
<text x="544 552.1 559.2 565.3 569.4 576.5 586.6 592.7 596.8 603.9 610.0 614.1 618.2" y="689" font-size="11" font-weight="bold" font-style="normal" fill="#333333" text-anchor="start" >CustomerParty</text>
<rect x="630.5" y="682.5" width="9" height="9" fill="#ffffff" stroke="#b0b0b0" stroke-width="1"/>
<rect x="632.5" y="686.3" width="5" height="1.4" fill="#cdcdcd"/>
<rect x="634.3" y="684.5" width="1.4" height="5" fill="#c2c2c2"/>
<rect x="413" y="719" width="40" height="1" fill="#808080" fill-opacity="0.58"/>
<text transform="translate(0 715.5) scale(1 1.14)" x="429.1 434.25 436.9 439.55 442.2 447.35" y="0" font-size="9" font-weight="normal" font-style="italic" fill="#000" stroke="#000" stroke-width="0.2"><tspan stroke-width="0.1">0</tspan><tspan fill="#555" stroke="none">..</tspan>[1]</text>
<rect x="455" y="708" width="208" height="26" fill="#000" opacity="0.06"/>
<rect x="453.5" y="706.5" width="207" height="25" fill="url(#gE)" stroke="#a2a2a2" stroke-width="1" stroke-dasharray="5.5 3"/>
<rect x="459" y="713" width="20" height="12" fill="url(#bEb)"/>
<rect x="459" y="713" width="20" height="7" fill="url(#bEt)"/>
<rect x="458.5" y="712.5" width="21" height="13" fill="none" stroke="#6a5858" stroke-width="1"/>
<text transform="translate(469.5 723.2) scale(0.8 1)" font-size="11.5" font-weight="bold" fill="#4a3a3a" stroke="#4a3a3a" stroke-width="0.2" text-anchor="middle">E</text>
<text x="485 491.0 499.0 505.0 509.0" y="721" font-size="11" font-weight="bold" font-style="normal" fill="#333333" text-anchor="start" >&lt;Ref&gt;</text>
<text x="535.7" y="721" font-size="11" font-weight="bold" font-style="normal" fill="#333333" text-anchor="start" >:</text>
<text x="544 551.1 557.2 560.3 566.4 572.5 579.6 585.7 591.8 598.9 607.0 613.1 617.2 623.3 627.4 633.5 640.6 646.7" y="721" font-size="11" font-weight="bold" font-style="normal" fill="#333333" text-anchor="start" >SalesLeadReference</text>
<rect x="660.5" y="714.5" width="9" height="9" fill="#ffffff" stroke="#b0b0b0" stroke-width="1"/>
<rect x="662.5" y="718.3" width="5" height="1.4" fill="#cdcdcd"/>
<rect x="664.3" y="716.5" width="1.4" height="5" fill="#c2c2c2"/>
<rect x="413" y="751" width="33" height="1" fill="#808080" fill-opacity="0.58"/>
<text transform="translate(0 747.5) scale(1 1.14)" x="428.9 434.05 436.7 439.35" y="0" font-size="9" font-weight="normal" font-style="italic" fill="#000" stroke="#000" stroke-width="0.2"><tspan stroke-width="0.1">0</tspan><tspan fill="#555" stroke="none">..</tspan>*</text>
<rect x="448" y="740" width="217" height="26" fill="#000" opacity="0.06"/>
<rect x="446.5" y="738.5" width="216" height="25" fill="url(#gE)" stroke="#a2a2a2" stroke-width="1" stroke-dasharray="5.5 3"/>
<rect x="452" y="745" width="20" height="12" fill="url(#bEb)"/>
<rect x="452" y="745" width="20" height="7" fill="url(#bEt)"/>
<rect x="451.5" y="744.5" width="21" height="13" fill="none" stroke="#6a5858" stroke-width="1"/>
<text transform="translate(462.5 755.2) scale(0.8 1)" font-size="11.5" font-weight="bold" fill="#4a3a3a" stroke="#4a3a3a" stroke-width="0.2" text-anchor="middle">E</text>
<text x="478 484.0 492.0 498.0 502.0" y="753" font-size="11" font-weight="bold" font-style="normal" fill="#333333" text-anchor="start" >&lt;Ref&gt;</text>
<text x="528.7" y="753" font-size="11" font-weight="bold" font-style="normal" fill="#333333" text-anchor="start" >:</text>
<text x="537 546.1 553.2 560.3 567.4 571.5 575.6 582.7 589.8 592.9 597.0 603.1 611.2 617.3 621.4 627.5 631.6 637.7 644.8 650.9" y="753" font-size="11" font-weight="bold" font-style="normal" fill="#333333" text-anchor="start" >OpportunityReference</text>
<rect x="662.5" y="746.5" width="9" height="9" fill="#ffffff" stroke="#b0b0b0" stroke-width="1"/>
<rect x="664.5" y="750.3" width="5" height="1.4" fill="#cdcdcd"/>
<rect x="666.3" y="748.5" width="1.4" height="5" fill="#c2c2c2"/>
<rect x="413" y="783" width="33" height="1" fill="#808080" fill-opacity="0.58"/>
<text transform="translate(0 779.5) scale(1 1.14)" x="428.9 434.05 436.7 439.35" y="0" font-size="9" font-weight="normal" font-style="italic" fill="#000" stroke="#000" stroke-width="0.2"><tspan stroke-width="0.1">0</tspan><tspan fill="#555" stroke="none">..</tspan>*</text>
<rect x="448" y="772" width="237" height="26" fill="#000" opacity="0.06"/>
<rect x="446.5" y="770.5" width="236" height="25" fill="url(#gE)" stroke="#a2a2a2" stroke-width="1" stroke-dasharray="5.5 3"/>
<rect x="452" y="777" width="20" height="12" fill="url(#bEb)"/>
<rect x="452" y="777" width="20" height="7" fill="url(#bEt)"/>
<rect x="451.5" y="776.5" width="21" height="13" fill="none" stroke="#6a5858" stroke-width="1"/>
<text transform="translate(462.5 787.2) scale(0.8 1)" font-size="11.5" font-weight="bold" fill="#4a3a3a" stroke="#4a3a3a" stroke-width="0.2" text-anchor="middle">E</text>
<text x="478 484.0 492.0 498.0 502.0" y="785" font-size="11" font-weight="bold" font-style="normal" fill="#333333" text-anchor="start" >&lt;Ref&gt;</text>
<text x="528.7" y="785" font-size="11" font-weight="bold" font-style="normal" fill="#333333" text-anchor="start" >:</text>
<text x="537 544.1 550.2 554.3 560.4 563.5 569.6 575.7 583.8 589.9 597.0 604.1 610.2 616.3 620.4 628.5 634.6 638.7 644.8 648.9 655.0 662.1 668.2" y="785" font-size="11" font-weight="bold" font-style="normal" fill="#333333" text-anchor="start" >ServiceRequestReference</text>
<rect x="682.5" y="778.5" width="9" height="9" fill="#ffffff" stroke="#b0b0b0" stroke-width="1"/>
<rect x="684.5" y="782.3" width="5" height="1.4" fill="#cdcdcd"/>
<rect x="686.3" y="780.5" width="1.4" height="5" fill="#c2c2c2"/>
<rect x="413" y="815" width="40" height="1" fill="#808080" fill-opacity="0.58"/>
<text transform="translate(0 811.5) scale(1 1.14)" x="429.1 434.25 436.9 439.55 442.2 447.35" y="0" font-size="9" font-weight="normal" font-style="italic" fill="#000" stroke="#000" stroke-width="0.2"><tspan stroke-width="0.1">0</tspan><tspan fill="#555" stroke="none">..</tspan>[1]</text>
<rect x="455" y="804" width="201" height="26" fill="#000" opacity="0.06"/>
<rect x="453.5" y="802.5" width="200" height="25" fill="url(#gE)" stroke="#a2a2a2" stroke-width="1" stroke-dasharray="5.5 3"/>
<rect x="459" y="809" width="20" height="12" fill="url(#bEb)"/>
<rect x="459" y="809" width="20" height="7" fill="url(#bEt)"/>
<rect x="458.5" y="808.5" width="21" height="13" fill="none" stroke="#6a5858" stroke-width="1"/>
<text transform="translate(469.5 819.2) scale(0.8 1)" font-size="11.5" font-weight="bold" fill="#4a3a3a" stroke="#4a3a3a" stroke-width="0.2" text-anchor="middle">E</text>
<text x="485 491.0 499.0 505.0 509.0" y="817" font-size="11" font-weight="bold" font-style="normal" fill="#333333" text-anchor="start" >&lt;Ref&gt;</text>
<text x="535.7" y="817" font-size="11" font-weight="bold" font-style="normal" fill="#333333" text-anchor="start" >:</text>
<text x="544 552.1 559.2 569.3 576.4 579.5 585.6 589.7 592.8 599.9 607.0 614.1 620.2 624.3 630.4 636.5 643.6" y="817" font-size="11" font-weight="bold" font-style="normal" fill="#333333" text-anchor="start" >CompletionPercent</text>
<rect x="653.5" y="810.5" width="9" height="9" fill="#ffffff" stroke="#b0b0b0" stroke-width="1"/>
<rect x="655.5" y="814.3" width="5" height="1.4" fill="#cdcdcd"/>
<rect x="657.3" y="812.5" width="1.4" height="5" fill="#c2c2c2"/>
<rect x="413" y="847" width="40" height="1" fill="#808080" fill-opacity="0.58"/>
<text transform="translate(0 843.5) scale(1 1.14)" x="429.1 434.25 436.9 439.55 442.2 447.35" y="0" font-size="9" font-weight="normal" font-style="italic" fill="#000" stroke="#000" stroke-width="0.2"><tspan stroke-width="0.1">0</tspan><tspan fill="#555" stroke="none">..</tspan>[1]</text>
<rect x="455" y="836" width="203" height="26" fill="#000" opacity="0.06"/>
<rect x="453.5" y="834.5" width="202" height="25" fill="url(#gE)" stroke="#a2a2a2" stroke-width="1" stroke-dasharray="5.5 3"/>
<rect x="459" y="841" width="20" height="12" fill="url(#bEb)"/>
<rect x="459" y="841" width="20" height="7" fill="url(#bEt)"/>
<rect x="458.5" y="840.5" width="21" height="13" fill="none" stroke="#6a5858" stroke-width="1"/>
<text transform="translate(469.5 851.2) scale(0.8 1)" font-size="11.5" font-weight="bold" fill="#4a3a3a" stroke="#4a3a3a" stroke-width="0.2" text-anchor="middle">E</text>
<text x="485 491.0 499.0 505.0 509.0" y="849" font-size="11" font-weight="bold" font-style="normal" fill="#333333" text-anchor="start" >&lt;Ref&gt;</text>
<text x="535.7" y="849" font-size="11" font-weight="bold" font-style="normal" fill="#333333" text-anchor="start" >:</text>
<text x="544 552.1 559.2 569.3 576.4 579.5 585.6 589.7 595.8 602.9 611.0 618.1 622.2 628.3 632.4 635.5 642.6" y="849" font-size="11" font-weight="bold" font-style="normal" fill="#333333" text-anchor="start" >CompletedDuration</text>
<rect x="655.5" y="842.5" width="9" height="9" fill="#ffffff" stroke="#b0b0b0" stroke-width="1"/>
<rect x="657.5" y="846.3" width="5" height="1.4" fill="#cdcdcd"/>
<rect x="659.3" y="844.5" width="1.4" height="5" fill="#c2c2c2"/>
<rect x="413" y="879" width="40" height="1" fill="#808080" fill-opacity="0.58"/>
<text transform="translate(0 875.5) scale(1 1.14)" x="429.1 434.25 436.9 439.55 442.2 447.35" y="0" font-size="9" font-weight="normal" font-style="italic" fill="#000" stroke="#000" stroke-width="0.2"><tspan stroke-width="0.1">0</tspan><tspan fill="#555" stroke="none">..</tspan>[1]</text>
<rect x="455" y="868" width="218" height="26" fill="#000" opacity="0.06"/>
<rect x="453.5" y="866.5" width="217" height="25" fill="url(#gE)" stroke="#a2a2a2" stroke-width="1" stroke-dasharray="5.5 3"/>
<rect x="459" y="873" width="20" height="12" fill="url(#bEb)"/>
<rect x="459" y="873" width="20" height="7" fill="url(#bEt)"/>
<rect x="458.5" y="872.5" width="21" height="13" fill="none" stroke="#6a5858" stroke-width="1"/>
<text transform="translate(469.5 883.2) scale(0.8 1)" font-size="11.5" font-weight="bold" fill="#4a3a3a" stroke="#4a3a3a" stroke-width="0.2" text-anchor="middle">E</text>
<text x="485 491.0 499.0 505.0 509.0" y="881" font-size="11" font-weight="bold" font-style="normal" fill="#333333" text-anchor="start" >&lt;Ref&gt;</text>
<text x="535.7" y="881" font-size="11" font-weight="bold" font-style="normal" fill="#333333" text-anchor="start" >:</text>
<text x="544 551.1 554.2 560.3 567.4 574.5 580.6 587.7 594.8 598.9 603.0 610.1 614.2 618.3 626.4 633.5 637.6 643.7 647.8 650.9 658.0" y="881" font-size="11" font-weight="bold" font-style="normal" fill="#333333" text-anchor="start" >PlannedEffortDuration</text>
<rect x="670.5" y="874.5" width="9" height="9" fill="#ffffff" stroke="#b0b0b0" stroke-width="1"/>
<rect x="672.5" y="878.3" width="5" height="1.4" fill="#cdcdcd"/>
<rect x="674.3" y="876.5" width="1.4" height="5" fill="#c2c2c2"/>
<rect x="413" y="911" width="40" height="1" fill="#808080" fill-opacity="0.58"/>
<text transform="translate(0 907.5) scale(1 1.14)" x="429.1 434.25 436.9 439.55 442.2 447.35" y="0" font-size="9" font-weight="normal" font-style="italic" fill="#000" stroke="#000" stroke-width="0.2"><tspan stroke-width="0.1">0</tspan><tspan fill="#555" stroke="none">..</tspan>[1]</text>
<rect x="455" y="900" width="209" height="26" fill="#000" opacity="0.06"/>
<rect x="453.5" y="898.5" width="208" height="25" fill="url(#gE)" stroke="#a2a2a2" stroke-width="1" stroke-dasharray="5.5 3"/>
<rect x="459" y="905" width="20" height="12" fill="url(#bEb)"/>
<rect x="459" y="905" width="20" height="7" fill="url(#bEt)"/>
<rect x="458.5" y="904.5" width="21" height="13" fill="none" stroke="#6a5858" stroke-width="1"/>
<text transform="translate(469.5 915.2) scale(0.8 1)" font-size="11.5" font-weight="bold" fill="#4a3a3a" stroke="#4a3a3a" stroke-width="0.2" text-anchor="middle">E</text>
<text x="485 491.0 499.0 505.0 509.0" y="913" font-size="11" font-weight="bold" font-style="normal" fill="#333333" text-anchor="start" >&lt;Ref&gt;</text>
<text x="535.7" y="913" font-size="11" font-weight="bold" font-style="normal" fill="#333333" text-anchor="start" >:</text>
<text x="544 552.1 558.2 562.3 569.4 575.5 578.6 585.7 589.8 593.9 601.0 605.1 609.2 617.3 624.4 628.5 634.6 638.7 641.8 648.9" y="913" font-size="11" font-weight="bold" font-style="normal" fill="#333333" text-anchor="start" >ActualEffortDuration</text>
<rect x="661.5" y="906.5" width="9" height="9" fill="#ffffff" stroke="#b0b0b0" stroke-width="1"/>
<rect x="663.5" y="910.3" width="5" height="1.4" fill="#cdcdcd"/>
<rect x="665.3" y="908.5" width="1.4" height="5" fill="#c2c2c2"/>
<rect x="413" y="943" width="40" height="1" fill="#808080" fill-opacity="0.58"/>
<text transform="translate(0 939.5) scale(1 1.14)" x="429.1 434.25 436.9 439.55 442.2 447.35" y="0" font-size="9" font-weight="normal" font-style="italic" fill="#000" stroke="#000" stroke-width="0.2"><tspan stroke-width="0.1">0</tspan><tspan fill="#555" stroke="none">..</tspan>[1]</text>
<rect x="455" y="932" width="237" height="26" fill="#000" opacity="0.06"/>
<rect x="453.5" y="930.5" width="236" height="25" fill="url(#gE)" stroke="#a2a2a2" stroke-width="1" stroke-dasharray="5.5 3"/>
<rect x="459" y="937" width="20" height="12" fill="url(#bEb)"/>
<rect x="459" y="937" width="20" height="7" fill="url(#bEt)"/>
<rect x="458.5" y="936.5" width="21" height="13" fill="none" stroke="#6a5858" stroke-width="1"/>
<text transform="translate(469.5 947.2) scale(0.8 1)" font-size="11.5" font-weight="bold" fill="#4a3a3a" stroke="#4a3a3a" stroke-width="0.2" text-anchor="middle">E</text>
<text x="485 491.0 499.0 505.0 509.0" y="945" font-size="11" font-weight="bold" font-style="normal" fill="#333333" text-anchor="start" >&lt;Ref&gt;</text>
<text x="535.7" y="945" font-size="11" font-weight="bold" font-style="normal" fill="#333333" text-anchor="start" >:</text>
<text x="544 552.1 558.2 565.3 571.4 577.5 581.6 584.7 591.8 598.9 606.0 610.1 616.2 623.3 630.4 636.5 643.6 649.7 655.8 663.9 671.0 678.1" y="945" font-size="11" font-weight="bold" font-style="normal" fill="#333333" text-anchor="start" >RepeatingFrequencyCode</text>
<rect x="689.5" y="938.5" width="9" height="9" fill="#ffffff" stroke="#b0b0b0" stroke-width="1"/>
<rect x="691.5" y="942.3" width="5" height="1.4" fill="#cdcdcd"/>
<rect x="693.3" y="940.5" width="1.4" height="5" fill="#c2c2c2"/>
<rect x="413" y="975" width="33" height="1" fill="#808080" fill-opacity="0.58"/>
<text transform="translate(0 971.5) scale(1 1.14)" x="428.9 434.05 436.7 439.35" y="0" font-size="9" font-weight="normal" font-style="italic" fill="#000" stroke="#000" stroke-width="0.2"><tspan stroke-width="0.1">0</tspan><tspan fill="#555" stroke="none">..</tspan>*</text>
<rect x="448" y="964" width="144" height="26" fill="#000" opacity="0.06"/>
<rect x="446.5" y="962.5" width="143" height="25" fill="url(#gE)" stroke="#a2a2a2" stroke-width="1" stroke-dasharray="5.5 3"/>
<rect x="452" y="969" width="20" height="12" fill="url(#bEb)"/>
<rect x="452" y="969" width="20" height="7" fill="url(#bEt)"/>
<rect x="451.5" y="968.5" width="21" height="13" fill="none" stroke="#6a5858" stroke-width="1"/>
<text transform="translate(462.5 979.2) scale(0.8 1)" font-size="11.5" font-weight="bold" fill="#4a3a3a" stroke="#4a3a3a" stroke-width="0.2" text-anchor="middle">E</text>
<text x="478 484.0 492.0 498.0 502.0" y="977" font-size="11" font-weight="bold" font-style="normal" fill="#333333" text-anchor="start" >&lt;Ref&gt;</text>
<text x="528.7" y="977" font-size="11" font-weight="bold" font-style="normal" fill="#333333" text-anchor="start" >:</text>
<text x="537 545.1 552.2 559.3 563.4 569.5 575.6" y="977" font-size="11" font-weight="bold" font-style="normal" fill="#333333" text-anchor="start" >Contact</text>
<rect x="589.5" y="970.5" width="9" height="9" fill="#ffffff" stroke="#b0b0b0" stroke-width="1"/>
<rect x="591.5" y="974.3" width="5" height="1.4" fill="#cdcdcd"/>
<rect x="593.3" y="972.5" width="1.4" height="5" fill="#c2c2c2"/>
<rect x="413" y="1042" width="47" height="1" fill="#808080" fill-opacity="0.58"/>
<text transform="translate(0 1002.5) scale(1 1.14)" x="429.8 432.45 437.6 440.25 442.9 445.55 448.2 453.35" y="0" font-size="9" font-weight="normal" font-style="italic" fill="#000" stroke="#000" stroke-width="0.2">[1]<tspan fill="#555" stroke="none">..</tspan>[1]</text>
<rect x="462.5" y="997.5" width="335" height="95" fill="#000" opacity="0.26" filter="url(#blur08)"/>
<rect x="460.5" y="995.5" width="334" height="94" fill="url(#gE)" stroke="#bcbcbc" stroke-width="1"/>
<rect x="466" y="1002" width="20" height="12" fill="url(#bEb)"/>
<rect x="466" y="1002" width="20" height="7" fill="url(#bEt)"/>
<rect x="465.5" y="1001.5" width="21" height="13" fill="none" stroke="#6a5858" stroke-width="1"/>
<text transform="translate(476.5 1012.2) scale(0.8 1)" font-size="11.5" font-weight="bold" fill="#4a3a3a" stroke="#4a3a3a" stroke-width="0.2" text-anchor="middle">G</text>
<text x="492 498.0 506.0 512.0 516.0" y="1010" font-size="11" font-weight="bold" font-style="normal" fill="#333333" text-anchor="start" >&lt;Ref&gt;</text>
<text x="542.7" y="1010" font-size="11" font-weight="bold" font-style="normal" fill="#333333" text-anchor="start" >:</text>
<text x="551 559.1 565.2 569.3 575.4 579.5 585.6 592.7 598.8 604.9 611.0 620.1 624.2 631.3 638.4" y="1010" font-size="11" font-weight="bold" font-style="normal" fill="#333333" text-anchor="start" >ReferencesGroup</text>
<rect x="461" y="1050" width="49" height="1" fill="#808080" fill-opacity="0.58"/>
<text transform="translate(0 1046.5) scale(1 1.14)" x="480.8 483.45 488.6 491.25 493.9 496.55 499.2 504.35" y="0" font-size="9" font-weight="normal" font-style="italic" fill="#000" stroke="#000" stroke-width="0.2">[1]<tspan fill="#555" stroke="none">..</tspan>[1]</text>
<rect x="512" y="1022" width="30" height="60" fill="#000" opacity="0.07"/>
<rect x="510.5" y="1020.5" width="29" height="59" fill="url(#gC)" stroke="#a8a8a8" stroke-width="1"/>
<rect x="519.7" y="1050" width="12.299999999999955" height="1" fill="#383838"/>
<rect x="525" y="1044" width="1" height="13" fill="#383838"/>
<rect x="525" y="1044" width="7" height="1" fill="#383838"/>
<rect x="525" y="1056" width="7" height="1" fill="#383838"/>
<circle cx="519.7" cy="1050.5" r="2.5" fill="url(#dot)"/>
<circle cx="532" cy="1044.5" r="2.5" fill="url(#dot)"/>
<circle cx="532" cy="1050.5" r="2.5" fill="url(#dot)"/>
<circle cx="532" cy="1056.5" r="2.5" fill="url(#dot)"/>
<rect x="540" y="1033" width="33" height="1" fill="#808080" fill-opacity="0.58"/>
<text transform="translate(0 1029.5) scale(1 1.14)" x="555.9 561.05 563.7 566.35" y="0" font-size="9" font-weight="normal" font-style="italic" fill="#000" stroke="#000" stroke-width="0.2"><tspan stroke-width="0.1">0</tspan><tspan fill="#555" stroke="none">..</tspan>*</text>
<rect x="575" y="1022" width="208" height="26" fill="#000" opacity="0.06"/>
<rect x="573.5" y="1020.5" width="207" height="25" fill="url(#gE)" stroke="#a2a2a2" stroke-width="1" stroke-dasharray="5.5 3"/>
<rect x="579" y="1027" width="20" height="12" fill="url(#bEb)"/>
<rect x="579" y="1027" width="20" height="7" fill="url(#bEt)"/>
<rect x="578.5" y="1026.5" width="21" height="13" fill="none" stroke="#6a5858" stroke-width="1"/>
<text transform="translate(589.5 1037.2) scale(0.8 1)" font-size="11.5" font-weight="bold" fill="#4a3a3a" stroke="#4a3a3a" stroke-width="0.2" text-anchor="middle">E</text>
<text x="605 611.0 619.0 625.0 629.0" y="1035" font-size="11" font-weight="bold" font-style="normal" fill="#333333" text-anchor="start" >&lt;Ref&gt;</text>
<text x="655.7" y="1035" font-size="11" font-weight="bold" font-style="normal" fill="#333333" text-anchor="start" >:</text>
<text x="664 672.1 679.2 685.3 692.4 702.5 708.6 715.7 719.8 727.9 734.0 738.1 744.2 748.3 754.4 761.5 767.6" y="1035" font-size="11" font-weight="bold" font-style="normal" fill="#333333" text-anchor="start" >DocumentReference</text>
<rect x="780.5" y="1028.5" width="9" height="9" fill="#ffffff" stroke="#b0b0b0" stroke-width="1"/>
<rect x="782.5" y="1032.3" width="5" height="1.4" fill="#cdcdcd"/>
<rect x="784.3" y="1030.5" width="1.4" height="5" fill="#c2c2c2"/>
<rect x="540" y="1065" width="33" height="1" fill="#808080" fill-opacity="0.58"/>
<text transform="translate(0 1061.5) scale(1 1.14)" x="555.9 561.05 563.7 566.35" y="0" font-size="9" font-weight="normal" font-style="italic" fill="#000" stroke="#000" stroke-width="0.2"><tspan stroke-width="0.1">0</tspan><tspan fill="#555" stroke="none">..</tspan>*</text>
<rect x="575" y="1054" width="160" height="26" fill="#000" opacity="0.06"/>
<rect x="573.5" y="1052.5" width="159" height="25" fill="url(#gE)" stroke="#a2a2a2" stroke-width="1" stroke-dasharray="5.5 3"/>
<rect x="579" y="1059" width="20" height="12" fill="url(#bEb)"/>
<rect x="579" y="1059" width="20" height="7" fill="url(#bEt)"/>
<rect x="578.5" y="1058.5" width="21" height="13" fill="none" stroke="#6a5858" stroke-width="1"/>
<text transform="translate(589.5 1069.2) scale(0.8 1)" font-size="11.5" font-weight="bold" fill="#4a3a3a" stroke="#4a3a3a" stroke-width="0.2" text-anchor="middle">E</text>
<text x="605 611.0 619.0 625.0 629.0" y="1067" font-size="11" font-weight="bold" font-style="normal" fill="#333333" text-anchor="start" >&lt;Ref&gt;</text>
<text x="655.7" y="1067" font-size="11" font-weight="bold" font-style="normal" fill="#333333" text-anchor="start" >:</text>
<text x="664 672.1 676.2 680.3 686.4 692.5 699.6 709.7 715.8 722.9" y="1067" font-size="11" font-weight="bold" font-style="normal" fill="#333333" text-anchor="start" >Attachment</text>
<rect x="732.5" y="1060.5" width="9" height="9" fill="#ffffff" stroke="#b0b0b0" stroke-width="1"/>
<rect x="734.5" y="1064.3" width="5" height="1.4" fill="#cdcdcd"/>
<rect x="736.3" y="1062.5" width="1.4" height="5" fill="#c2c2c2"/>
<rect x="413" y="1111" width="40" height="1" fill="#808080" fill-opacity="0.58"/>
<text transform="translate(0 1107.5) scale(1 1.14)" x="429.1 434.25 436.9 439.55 442.2 447.35" y="0" font-size="9" font-weight="normal" font-style="italic" fill="#000" stroke="#000" stroke-width="0.2"><tspan stroke-width="0.1">0</tspan><tspan fill="#555" stroke="none">..</tspan>[1]</text>
<rect x="455" y="1100" width="148" height="26" fill="#000" opacity="0.06"/>
<rect x="453.5" y="1098.5" width="147" height="25" fill="url(#gE)" stroke="#a2a2a2" stroke-width="1" stroke-dasharray="5.5 3"/>
<rect x="459" y="1105" width="20" height="12" fill="url(#bEb)"/>
<rect x="459" y="1105" width="20" height="7" fill="url(#bEt)"/>
<rect x="458.5" y="1104.5" width="21" height="13" fill="none" stroke="#6a5858" stroke-width="1"/>
<text transform="translate(469.5 1115.2) scale(0.8 1)" font-size="11.5" font-weight="bold" fill="#4a3a3a" stroke="#4a3a3a" stroke-width="0.2" text-anchor="middle">E</text>
<text x="485 491.0 499.0 505.0 509.0" y="1113" font-size="11" font-weight="bold" font-style="normal" fill="#333333" text-anchor="start" >&lt;Ref&gt;</text>
<text x="535.7" y="1113" font-size="11" font-weight="bold" font-style="normal" fill="#333333" text-anchor="start" >:</text>
<text x="544 552.1 558.2 564.3 568.4 576.5 580.6 586.7" y="1113" font-size="11" font-weight="bold" font-style="normal" fill="#333333" text-anchor="start" >UserArea</text>
<rect x="600.5" y="1106.5" width="9" height="9" fill="#ffffff" stroke="#b0b0b0" stroke-width="1"/>
<rect x="602.5" y="1110.3" width="5" height="1.4" fill="#cdcdcd"/>
<rect x="604.3" y="1108.5" width="1.4" height="5" fill="#c2c2c2"/>
</svg>
</body></html>
